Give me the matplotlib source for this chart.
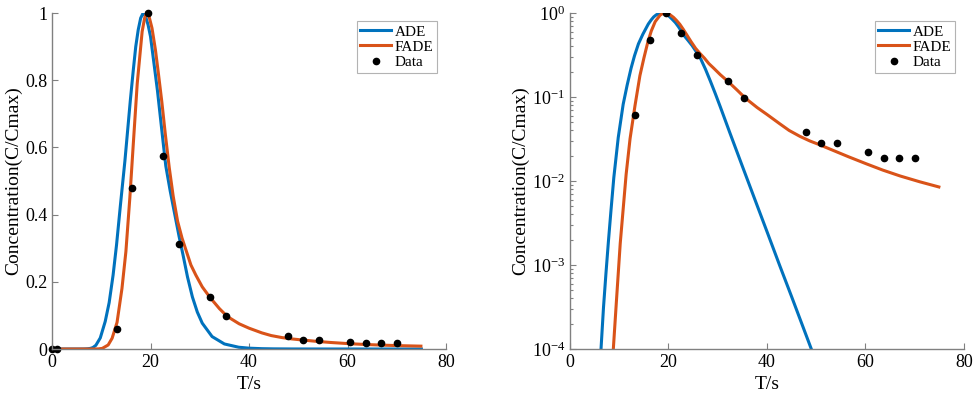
import matplotlib
matplotlib.use("Agg")
import matplotlib.pyplot as plt

# ---- data ----
data_t = [0.0, 1.0, 13.2, 16.3, 19.5, 22.6, 25.8, 32.1, 35.3, 47.9, 51.0, 54.2, 60.6, 63.7, 66.8, 70.0]
data_c = [0.0, 0.0, 0.061, 0.48, 1.0, 0.575, 0.313, 0.155, 0.098, 0.038, 0.028, 0.028, 0.022, 0.019, 0.019, 0.019]

ade_t = [0.0, 4.0, 5.5, 6.3, 6.8, 7.3, 7.8, 8.3, 8.9, 9.8, 10.8, 11.6, 12.4, 13.1, 13.9, 14.8,
         15.9, 16.5, 17.0, 17.5, 18.0, 18.5, 19.0, 19.5, 20.0, 20.7, 21.4, 22.0, 22.6, 23.1,
         24.0, 24.8, 25.8, 26.6, 27.5, 28.5, 29.5, 30.5, 32.5, 35.0, 37.9, 40.0, 42.6, 45.0,
         49.0, 55.0, 65.0, 75.0]
ade_c = [0.0, 1e-7, 1.5e-5, 1.0e-4, 3.1e-4, 7.9e-4, 1.9e-3, 4.3e-3, 1.1e-2, 3.3e-2, 8.2e-2,
         0.138, 0.22, 0.31, 0.43, 0.56, 0.74, 0.83, 0.90, 0.95, 0.985, 1.0, 0.99, 0.965, 0.93,
         0.85, 0.77, 0.69, 0.61, 0.545, 0.47, 0.41, 0.335, 0.28, 0.215, 0.155, 0.11, 0.077,
         0.037, 0.0150, 0.0053, 0.00250, 9.8e-4, 4.2e-4, 1.0e-4, 1.1e-5, 3e-7, 8.5e-9]

fade_t = [0.0, 6.0, 7.8, 8.8, 9.4, 10.2, 11.4, 12.2, 13.2, 14.2, 15.0, 15.8, 16.5, 17.3, 18.3,
          18.8, 19.2, 19.7, 20.3, 21.0, 21.6, 22.3, 23.0, 23.8, 24.6, 25.5, 26.4, 27.3, 28.2,
          29.2, 30.5, 32.1, 34.0, 35.3, 35.9, 38.0, 40.0, 42.6, 44.5, 46.7, 48.7, 50.7, 53.4,
          56.5, 60.2, 63.5, 67.0, 71.0, 74.9]
fade_c = [0.0, 1e-9, 4e-6, 1.0e-4, 3.5e-4, 1.8e-3, 1.2e-2, 3.2e-2, 0.079, 0.18, 0.29, 0.45,
          0.61, 0.79, 0.945, 0.985, 1.0, 0.99, 0.955, 0.89, 0.82, 0.735, 0.64, 0.54, 0.455,
          0.38, 0.33, 0.29, 0.25, 0.22, 0.185, 0.153, 0.12, 0.101, 0.094, 0.075, 0.062, 0.048,
          0.040, 0.034, 0.030, 0.027, 0.0232, 0.0195, 0.0160, 0.0135, 0.0115, 0.0098, 0.0085]

x_ticks = [0, 20, 40, 60, 80]
lin_yticks = [0, 0.2, 0.4, 0.6, 0.8, 1]
lin_ylabels = ["0", "0.2", "0.4", "0.6", "0.8", "1"]
log_yticks = [1e-4, 1e-3, 1e-2, 1e-1, 1e0]
log_ylabels = [r"$10^{-4}$", r"$10^{-3}$", r"$10^{-2}$", r"$10^{-1}$", r"$10^{0}$"]

# ---- style ----
plt.rcParams["font.family"] = ["Liberation Serif", "DejaVu Serif"]
plt.rcParams["mathtext.fontset"] = "custom"
plt.rcParams["mathtext.rm"] = "Liberation Serif"
plt.rcParams["mathtext.it"] = "Liberation Serif:italic"
plt.rcParams["mathtext.bf"] = "Liberation Serif:bold"

BLUE = "#0072BD"
ORANGE = "#D95319"
GRAY = "#808080"
FS_TICK = 13
FS_LABEL = 14

fig = plt.figure(figsize=(9.76, 3.99), dpi=100)
ax1 = fig.add_axes([0.0533, 0.1253, 0.4037, 0.842])
ax2 = fig.add_axes([0.584, 0.1253, 0.4037, 0.842])


def style(ax):
    for s in ["top", "right"]:
        ax.spines[s].set_visible(False)
    for s in ["left", "bottom"]:
        ax.spines[s].set_color(GRAY)
        ax.spines[s].set_linewidth(1.0)
    ax.tick_params(axis="both", which="both", direction="in", color=GRAY,
                   labelsize=FS_TICK, labelcolor="black", width=0.8)
    ax.tick_params(axis="both", which="major", length=4)
    ax.tick_params(axis="both", which="minor", length=2.5)
    ax.set_xlim(0, 80)
    ax.set_xticks(x_ticks)
    ax.set_xticklabels([str(t) for t in x_ticks])
    ax.set_xlabel("T/s", fontsize=FS_LABEL, labelpad=4)
    ax.set_ylabel("Concentration(C/Cmax)", fontsize=FS_LABEL, labelpad=2)


for ax in (ax1, ax2):
    ax.plot(ade_t, ade_c, color=BLUE, lw=2.2, label="ADE")
    ax.plot(fade_t, fade_c, color=ORANGE, lw=2.2, label="FADE")

ax1.plot(data_t, data_c, "o", color="black", ms=4.5, label="Data", clip_on=False)
pos = [(t, c) for t, c in zip(data_t, data_c) if c > 0]
ax2.plot([p[0] for p in pos], [p[1] for p in pos], "o", color="black", ms=4.5, label="Data")

style(ax1)
style(ax2)

ax1.set_ylim(0, 1)
ax1.set_yticks(lin_yticks)
ax1.set_yticklabels(lin_ylabels)

ax2.set_yscale("log")
ax2.set_ylim(1e-4, 1)
ax2.set_yticks(log_yticks)
ax2.set_yticklabels(log_ylabels)

for ax in (ax1, ax2):
    leg = ax.legend(loc="upper right", bbox_to_anchor=(0.978, 0.976), fontsize=11,
                    frameon=True, fancybox=False, handlelength=2.0, handletextpad=0.25,
                    borderpad=0.25, labelspacing=0.1, borderaxespad=0.0)
    leg.get_frame().set_edgecolor("#a0a0a0")
    leg.get_frame().set_linewidth(0.8)

fig.savefig("out.png", dpi=100)
